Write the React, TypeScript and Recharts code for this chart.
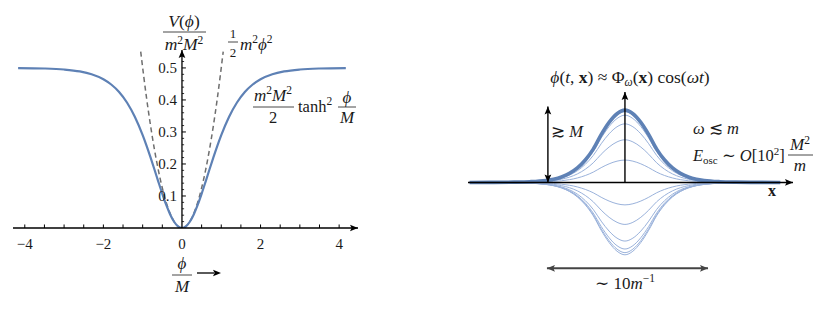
import React from 'react';
import {
  LineChart,
  Line,
  XAxis,
  YAxis,
  ReferenceLine,
  ReferenceDot,
} from 'recharts';

// ---- left panel: V(phi) / (m^2 M^2) against phi / M ----
const phiGrid = [
  -4.17, -3.5, -3, -2.6, -2.3, -2, -1.8, -1.6, -1.4, -1.2, -1, -0.9, -0.8, -0.7,
  -0.6, -0.5, -0.4, -0.3, -0.2, -0.1, 0, 0.1, 0.2, 0.3, 0.4, 0.5, 0.6, 0.7, 0.8,
  0.9, 1, 1.2, 1.4, 1.6, 1.8, 2, 2.3, 2.6, 3, 3.5, 4.17,
];
const tanhPotential = [
  0.4995, 0.4982, 0.4951, 0.4891, 0.4803, 0.4647, 0.4482, 0.4248, 0.392, 0.3475,
  0.29, 0.2565, 0.2205, 0.1827, 0.1442, 0.1068, 0.0722, 0.0424, 0.0195, 0.005, 0,
  0.005, 0.0195, 0.0424, 0.0722, 0.1068, 0.1442, 0.1827, 0.2205, 0.2565, 0.29,
  0.3475, 0.392, 0.4248, 0.4482, 0.4647, 0.4803, 0.4891, 0.4951, 0.4982, 0.4995,
];
const quadGrid = [
  -1.05, -0.9, -0.8, -0.7, -0.6, -0.5, -0.4, -0.3, -0.2, -0.1, 0, 0.1, 0.2, 0.3,
  0.4, 0.5, 0.6, 0.7, 0.8, 0.9, 1.05,
];
const quadPotential = [
  0.551, 0.405, 0.32, 0.245, 0.18, 0.125, 0.08, 0.045, 0.02, 0.005, 0, 0.005, 0.02,
  0.045, 0.08, 0.125, 0.18, 0.245, 0.32, 0.405, 0.551,
];
const xTickLabels = [-4, -2, 0, 2, 4];
const xTickMarks = [-4, -3.5, -3, -2.5, -2, -1.5, -1, -0.5, 0.5, 1, 1.5, 2, 2.5, 3, 3.5, 4];
const yTickLabels = [0.1, 0.2, 0.3, 0.4, 0.5];
const yMinorTicks = [
  0.02, 0.04, 0.06, 0.08, 0.12, 0.14, 0.16, 0.18, 0.22, 0.24, 0.26, 0.28, 0.32,
  0.34, 0.36, 0.38, 0.42, 0.44, 0.46, 0.48, 0.52, 0.54,
];

// ---- right panel: oscillon profile snapshots ----
const profileX = [
  -9.8, -8.5, -7, -6, -5, -4.5, -4, -3.5, -3, -2.5, -2, -1.5, -1, -0.5, 0, 0.5, 1,
  1.5, 2, 2.5, 3, 3.5, 4, 4.5, 5, 6, 7, 8.5, 9.8,
];
const profileShape = [
  0, 0.001, 0.004, 0.01, 0.027, 0.045, 0.076, 0.125, 0.2, 0.31, 0.46, 0.66, 0.83,
  0.95, 1, 0.95, 0.83, 0.66, 0.46, 0.31, 0.2, 0.125, 0.076, 0.045, 0.027, 0.01,
  0.004, 0.001, 0,
];
const thinAmplitudes = [0.31, 0.59, 0.81, 0.93, 0.98, -0.31, -0.58, -0.81, -0.92, -0.97, -1.0];
const peakAmplitude = 1.0;

const FONT = '"Liberation Serif", "DejaVu Serif", serif';
const BLUE = '#5E81B5';
const INK = '#1a1a1a';
const PHI = '\u03D5';

const toRows = (xs: number[], vs: number[]) => xs.map((x, i) => ({ x, v: vs[i] }));
const snapshot = (amp: number) => profileX.map((x, i) => ({ x, v: amp * profileShape[i] }));

type ArrowProps = { cx?: number; cy?: number; dir: 'up' | 'down' | 'left' | 'right'; color?: string; len?: number };
const ArrowHead = ({ cx = 0, cy = 0, dir, color = '#000', len = 8 }: ArrowProps) => {
  const w = len * 0.42;
  let pts = '';
  if (dir === 'right') pts = `${cx},${cy} ${cx - len},${cy - w} ${cx - len * 0.8},${cy} ${cx - len},${cy + w}`;
  if (dir === 'left') pts = `${cx},${cy} ${cx + len},${cy - w} ${cx + len * 0.8},${cy} ${cx + len},${cy + w}`;
  if (dir === 'up') pts = `${cx},${cy} ${cx - w},${cy + len} ${cx},${cy + len * 0.8} ${cx + w},${cy + len}`;
  if (dir === 'down') pts = `${cx},${cy} ${cx - w},${cy - len} ${cx},${cy - len * 0.8} ${cx + w},${cy - len}`;
  return <polygon points={pts} fill={color} />;
};

const fmtMinus = (v: number) => (v < 0 ? `\u2212${Math.abs(v)}` : `${v}`);

const PotentialChart = () => (
  <LineChart
    width={380}
    height={317}
    margin={{ top: 50, right: 22, left: 13, bottom: 59 }}
  >
    <XAxis
      type="number"
      dataKey="x"
      domain={[-4.3, 4.48]}
      allowDataOverflow
      ticks={xTickLabels}
      tickFormatter={fmtMinus}
      tickLine={false}
      tickMargin={4}
      axisLine={{ stroke: '#000', strokeWidth: 1.3 }}
      tick={{ fill: INK, fontSize: 15, fontFamily: FONT }}
      height={30}
    />
    <YAxis type="number" dataKey="v" domain={[0, 0.556]} allowDataOverflow hide />
    <Line
      data={toRows(quadGrid, quadPotential)}
      dataKey="v"
      type="monotone"
      stroke="#6e6e6e"
      strokeWidth={1.5}
      strokeDasharray="5 3.5"
      dot={false}
      isAnimationActive={false}
    />
    <Line
      data={toRows(phiGrid, tanhPotential)}
      dataKey="v"
      type="monotone"
      stroke={BLUE}
      strokeWidth={2.2}
      dot={false}
      isAnimationActive={false}
    />
    <ReferenceLine segment={[{ x: 0, y: 0 }, { x: 0, y: 0.556 }]} stroke="#000" strokeWidth={1.3} />
    {xTickMarks.map((t) => (
      <ReferenceLine key={`xt${t}`} segment={[{ x: t, y: 0 }, { x: t, y: 0.011 }]} stroke="#000" strokeWidth={1} />
    ))}
    {yTickLabels.map((t) => (
      <ReferenceLine key={`yt${t}`} segment={[{ x: 0, y: t }, { x: 0.1, y: t }]} stroke="#000" strokeWidth={1} />
    ))}
    {yMinorTicks.map((t) => (
      <ReferenceLine key={`ym${t}`} segment={[{ x: 0, y: t }, { x: 0.055, y: t }]} stroke="#000" strokeWidth={0.8} />
    ))}
    {yTickLabels.map((t) => (
      <ReferenceDot
        key={`yl${t}`}
        x={0}
        y={t}
        r={0}
        ifOverflow="visible"
        shape={() => <g />}
        label={{ value: t.toFixed(1), position: 'left', offset: 5, fill: INK, fontSize: 15, fontFamily: FONT }}
      />
    ))}
    <ReferenceDot x={4.48} y={0} ifOverflow="visible" shape={(p: any) => <ArrowHead cx={p.cx} cy={p.cy} dir="right" />} />
    <ReferenceDot x={0} y={0.556} ifOverflow="visible" shape={(p: any) => <ArrowHead cx={p.cx} cy={p.cy} dir="up" />} />
  </LineChart>
);

const ProfileChart = () => (
  <LineChart
    width={379}
    height={317}
    margin={{ top: 92, right: 46, left: 8, bottom: 26 }}
  >
    <XAxis type="number" dataKey="x" domain={[-9.9, 10.6]} allowDataOverflow hide />
    <YAxis type="number" dataKey="v" domain={[-1.5, 1.25]} allowDataOverflow hide />
    {thinAmplitudes.map((a) => (
      <Line
        key={`amp${a}`}
        data={snapshot(a)}
        dataKey="v"
        type="monotone"
        stroke="#9AB2DB"
        strokeWidth={1}
        dot={false}
        isAnimationActive={false}
      />
    ))}
    <Line
      data={snapshot(peakAmplitude)}
      dataKey="v"
      type="monotone"
      stroke={BLUE}
      strokeWidth={3.6}
      dot={false}
      isAnimationActive={false}
    />
    <ReferenceLine y={0} stroke="#000" strokeWidth={1.4} />
    <ReferenceLine segment={[{ x: 0, y: 0 }, { x: 0, y: 1.25 }]} stroke="#000" strokeWidth={1.4} />
    <ReferenceDot x={10.6} y={0} ifOverflow="visible" shape={(p: any) => <ArrowHead cx={p.cx} cy={p.cy} dir="right" />} />
    <ReferenceDot x={0} y={1.25} ifOverflow="visible" shape={(p: any) => <ArrowHead cx={p.cx} cy={p.cy} dir="up" />} />
    {/* amplitude marker */}
    <ReferenceLine segment={[{ x: -4.86, y: 0 }, { x: -4.86, y: 1.05 }]} stroke="#000" strokeWidth={1.4} />
    <ReferenceDot x={-4.86} y={1.05} ifOverflow="visible" shape={(p: any) => <ArrowHead cx={p.cx} cy={p.cy} dir="up" />} />
    <ReferenceDot x={-4.86} y={0} ifOverflow="visible" shape={(p: any) => <ArrowHead cx={p.cx} cy={p.cy} dir="down" />} />
    {/* width marker */}
    <ReferenceLine segment={[{ x: -4.92, y: -1.186 }, { x: 5.24, y: -1.186 }]} stroke="#444" strokeWidth={2} />
    <ReferenceDot x={-4.92} y={-1.186} ifOverflow="visible" shape={(p: any) => <ArrowHead cx={p.cx} cy={p.cy} dir="left" color="#444" />} />
    <ReferenceDot x={5.24} y={-1.186} ifOverflow="visible" shape={(p: any) => <ArrowHead cx={p.cx} cy={p.cy} dir="right" color="#444" />} />
  </LineChart>
);

const Sup = ({ s, up = 6 }: { s: string; up?: number }) => (
  <tspan fontSize={11.5} fontStyle="normal" dy={-up}>{s}</tspan>
);

const Annotations = () => (
  <svg
    width={839}
    height={317}
    style={{ position: 'absolute', left: 0, top: 0, pointerEvents: 'none' }}
    fontFamily={FONT}
    fill={INK}
  >
    {/* y label of left panel */}
    <text x={184} y={27} textAnchor="middle" fontSize={17.5}>
      <tspan fontStyle="italic">V</tspan>(<tspan fontStyle="italic">{PHI}</tspan>)
    </text>
    <line x1={163} x2={206} y1={32} y2={32} stroke={INK} strokeWidth={0.8} />
    <text x={184} y={50} textAnchor="middle" fontSize={17.5} fontStyle="italic">
      m<Sup s="2" /><tspan dy={6}>M</tspan><Sup s="2" />
    </text>

    {/* quadratic label */}
    <text x={233} y={38} textAnchor="middle" fontSize={13}>1</text>
    <line x1={228} x2={238} y1={42} y2={42} stroke={INK} strokeWidth={0.8} />
    <text x={233} y={57} textAnchor="middle" fontSize={13}>2</text>
    <text x={240} y={50} fontSize={17} fontStyle="italic">
      m<Sup s="2" up={7} /><tspan dy={7}>{PHI}</tspan><Sup s="2" up={7} />
    </text>

    {/* tanh label */}
    <text x={273} y={101} textAnchor="middle" fontSize={17} fontStyle="italic">
      m<Sup s="2" up={7} /><tspan dy={7}>M</tspan><Sup s="2" up={7} />
    </text>
    <line x1={253} x2={294} y1={107} y2={107} stroke={INK} strokeWidth={0.8} />
    <text x={273} y={123} textAnchor="middle" fontSize={16.5}>2</text>
    <text x={298} y={112} fontSize={16.5}>
      tanh<tspan fontSize={11.5} dy={-7}>2</tspan>
    </text>
    <text x={347} y={103} textAnchor="middle" fontSize={17} fontStyle="italic">{PHI}</text>
    <line x1={338} x2={356} y1={107} y2={107} stroke={INK} strokeWidth={0.8} />
    <text x={347} y={123} textAnchor="middle" fontSize={17} fontStyle="italic">M</text>

    {/* x label of left panel */}
    <text x={182} y={269} textAnchor="middle" fontSize={17} fontStyle="italic">{PHI}</text>
    <line x1={172} x2={192} y1={275} y2={275} stroke={INK} strokeWidth={0.8} />
    <text x={182} y={292} textAnchor="middle" fontSize={17} fontStyle="italic">M</text>
    <line x1={197} x2={214} y1={273} y2={273} stroke="#000" strokeWidth={1.3} />
    <ArrowHead cx={221} cy={273} dir="right" len={8} />

    {/* right panel */}
    <text x={630} y={83} textAnchor="middle" fontSize={17.5}>
      <tspan fontStyle="italic">{PHI}</tspan>(<tspan fontStyle="italic">t</tspan>,{' '}
      <tspan fontWeight="bold">x</tspan>) ≈ Φ<tspan fontSize={11.5} fontStyle="italic" dy={3}>ω</tspan>
      <tspan dy={-3}>(</tspan><tspan fontWeight="bold">x</tspan>) cos(<tspan fontStyle="italic">ωt</tspan>)
    </text>
    <text x={551} y={137} fontSize={16.5}>
      ≳ <tspan fontStyle="italic">M</tspan>
    </text>
    <text x={693} y={134} fontSize={16.5}>
      <tspan fontStyle="italic">ω</tspan> ≲ <tspan fontStyle="italic">m</tspan>
    </text>
    <text x={693} y={161} fontSize={16.5}>
      <tspan fontStyle="italic">E</tspan>
      <tspan fontSize={11} dy={3}>osc</tspan>
      <tspan dy={-3}> ∼ </tspan>
      <tspan fontStyle="italic">O</tspan>[10<tspan fontSize={11} dy={-6}>2</tspan>
      <tspan dy={6}>]</tspan>
    </text>
    <text x={800} y={150} textAnchor="middle" fontSize={17} fontStyle="italic">
      M<Sup s="2" />
    </text>
    <line x1={788} x2={813} y1={155} y2={155} stroke={INK} strokeWidth={0.8} />
    <text x={800} y={171} textAnchor="middle" fontSize={17} fontStyle="italic">m</text>
    <text x={772} y={196} textAnchor="middle" fontSize={16} fontWeight="bold">x</text>
    <text x={625} y={289} textAnchor="middle" fontSize={17}>
      ∼ 10<tspan fontStyle="italic">m</tspan>
      <tspan fontSize={11.5} dy={-7}>−1</tspan>
    </text>
  </svg>
);

export default function App() {
  return (
    <div
      style={{
        position: 'absolute',
        left: 0,
        top: 0,
        width: 839,
        height: 317,
        background: '#fff',
        fontFamily: FONT,
      }}
    >
      <div style={{ position: 'absolute', left: 0, top: 0 }}>
        <PotentialChart />
      </div>
      <div style={{ position: 'absolute', left: 460, top: 0 }}>
        <ProfileChart />
      </div>
      <Annotations />
    </div>
  );
}
